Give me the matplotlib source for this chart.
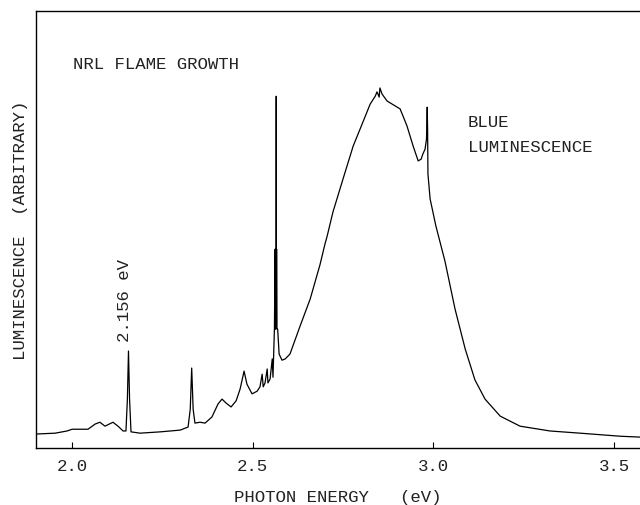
import matplotlib
matplotlib.use("Agg")
import matplotlib.pyplot as plt

# photon energy (eV) and luminescence (arbitrary units, 0-100 of the frame height)
energy = [
    1.900, 1.953, 1.986, 2.000, 2.044, 2.064, 2.077, 2.091, 2.113, 2.127,
    2.141, 2.149, 2.153, 2.156, 2.159, 2.163, 2.188, 2.244, 2.299, 2.321,
    2.327, 2.331, 2.335, 2.340, 2.354, 2.368, 2.387, 2.404, 2.415, 2.426,
    2.440, 2.454, 2.465, 2.476, 2.484, 2.498, 2.512, 2.520, 2.526, 2.529,
    2.534, 2.540, 2.542, 2.548, 2.554, 2.556, 2.560, 2.562, 2.563, 2.564,
    2.5645, 2.565, 2.5655, 2.566, 2.567, 2.569, 2.573, 2.581, 2.590, 2.603,
    2.631, 2.659, 2.686, 2.700, 2.706, 2.722, 2.750, 2.778, 2.805, 2.825,
    2.839, 2.844, 2.850, 2.852, 2.858, 2.872, 2.900, 2.908, 2.927, 2.944,
    2.958, 2.966, 2.971, 2.977, 2.981, 2.983, 2.984, 2.985, 2.991, 3.007,
    3.032, 3.060, 3.088, 3.115, 3.143, 3.185, 3.240, 3.323, 3.406, 3.517,
    3.572,
]
intensity = [
    3.2, 3.4, 3.9, 4.3, 4.3, 5.5, 5.9, 5.0, 5.9, 5.0,
    3.9, 3.9, 11.2, 22.2, 11.2, 3.7, 3.4, 3.7, 4.1, 4.8,
    8.9, 18.3, 8.9, 5.7, 5.9, 5.7, 7.1, 10.1, 11.2, 10.3,
    9.4, 10.8, 13.5, 17.6, 14.6, 12.4, 13.0, 14.0, 16.9, 14.0,
    14.9, 18.1, 14.9, 15.8, 20.4, 16.2, 27.2, 45.5, 27.2, 44.0,
    27.5, 80.5, 28.0, 45.5, 27.2, 27.2, 21.5, 20.1, 20.4, 21.5,
    27.9, 34.1, 41.9, 46.7, 48.5, 54.0, 61.6, 69.1, 74.6, 78.7,
    80.5, 81.5, 80.3, 82.4, 81.0, 79.4, 78.0, 77.6, 73.7, 69.1,
    65.7, 66.1, 67.3, 68.4, 70.7, 78.0, 73.0, 62.7, 57.0, 50.8,
    42.8, 31.8, 22.7, 15.6, 11.2, 7.3, 5.0, 3.9, 3.4, 2.7,
    2.5,
]

x_ticks = [2.0, 2.5, 3.0, 3.5]
x_tick_labels = ["2.0", "2.5", "3.0", "3.5"]

FONT = "Liberation Mono"
FS = 12.5
INK = "#222222"

fig = plt.figure(figsize=(6.4, 5.06), dpi=100)
ax = fig.add_axes([0.05625, 0.1126, 0.94375, 0.8636])

ax.plot(energy, intensity, color="black", linewidth=0.9)

ax.set_xlim(1.900, 3.572)
ax.set_ylim(0, 100)

ax.spines["right"].set_visible(False)
for side in ["left", "top", "bottom"]:
    ax.spines[side].set_linewidth(1.0)

ax.set_xticks(x_ticks)
ax.set_xticklabels(x_tick_labels, family=FONT, fontsize=FS, color=INK)
ax.tick_params(axis="x", direction="in", length=4, pad=7.5)
ax.set_yticks([])

ax.set_xlabel("PHOTON ENERGY   (eV)", family=FONT, fontsize=FS, color=INK,
              labelpad=11)
ax.set_ylabel("LUMINESCENCE  (ARBITRARY)", family=FONT, fontsize=FS,
              color=INK, labelpad=6)

ax.text(2.003, 87.9, "NRL FLAME GROWTH", family=FONT, fontsize=FS,
        color=INK, va="center")
ax.text(3.096, 74.8, "BLUE", family=FONT, fontsize=FS, color=INK,
        va="center")
ax.text(3.096, 68.9, "LUMINESCENCE", family=FONT, fontsize=FS, color=INK,
        va="center")
ax.text(2.146, 24.5, "2.156 eV", family=FONT, fontsize=FS, color=INK,
        rotation=90, ha="center", va="bottom")

fig.savefig("out.png", dpi=100)
